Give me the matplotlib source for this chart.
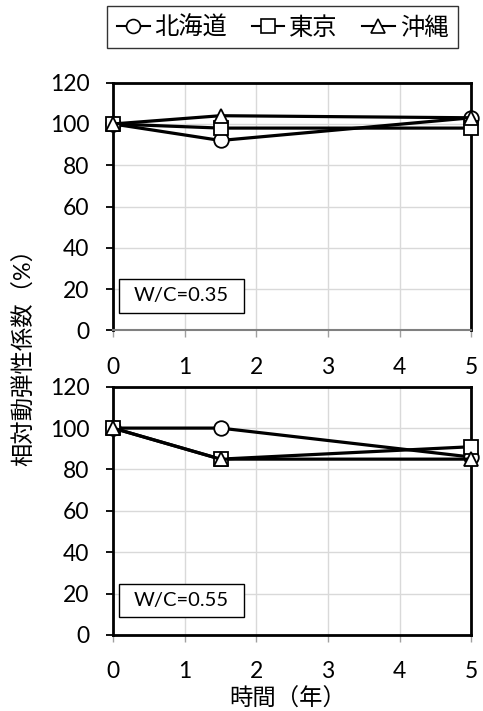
import matplotlib
matplotlib.use("Agg")
import matplotlib.pyplot as plt
from matplotlib.lines import Line2D
from matplotlib.patches import Rectangle

plt.rcParams['font.family'] = ['Lato', 'Noto Sans CJK JP', 'DejaVu Sans']

years = [0, 1.5, 5]
series_names = ['北海道', '東京', '沖縄']
markers = ['o', 's', '^']

# relative dynamic modulus (%) for each water-cement ratio
wc035 = {
    '北海道': [100, 92, 103],
    '東京': [100, 98, 98],
    '沖縄': [100, 104, 103],
}
wc055 = {
    '北海道': [100, 100, 86],
    '東京': [100, 85, 91],
    '沖縄': [100, 85, 85],
}
panel_labels = ['W/C=0.35', 'W/C=0.55']
y_ticks = [0, 20, 40, 60, 80, 100, 120]
x_ticks = [0, 1, 2, 3, 4, 5]

fig = plt.figure(figsize=(4.83, 7.11), dpi=100)
ax_top = fig.add_axes([0.234, 0.5354, 0.742, 0.3483])
ax_bot = fig.add_axes([0.234, 0.1069, 0.742, 0.3492])

grid_c = '#d9d9d9'
tick_fs = 16.5

for ax, data, lab, bottom_col in [(ax_top, wc035, panel_labels[0], '#808080'),
                                  (ax_bot, wc055, panel_labels[1], 'black')]:
    for name, mk in zip(series_names, markers):
        ax.plot(years, data[name], color='black', lw=2.3, marker=mk,
                markersize=10 if mk != 'o' else 10.5, markerfacecolor='white',
                markeredgecolor='black', markeredgewidth=1.3, clip_on=False, zorder=3)
    ax.set_xlim(0, 5)
    ax.set_ylim(0, 120)
    ax.set_xticks(x_ticks)
    ax.set_yticks(y_ticks)
    ax.grid(True, color=grid_c, lw=1.0, zorder=0)
    ax.set_axisbelow(True)
    for s in ['left', 'right', 'top']:
        ax.spines[s].set_linewidth(2.0)
        ax.spines[s].set_color('black')
    ax.spines['bottom'].set_linewidth(2.0 if bottom_col == 'black' else 1.5)
    ax.spines['bottom'].set_color(bottom_col)
    ax.tick_params(axis='y', direction='out', length=5, width=1.3, color='black',
                   labelsize=tick_fs, pad=12)
    ax.tick_params(axis='x', direction='out', length=5, width=1.0, color='#a0a0a0',
                   labelsize=tick_fs, pad=14)
    ax.add_patch(Rectangle((0.0165, 0.071), 0.35, 0.136, transform=ax.transAxes,
                           facecolor='white', edgecolor='black', linewidth=1.0,
                           zorder=4))
    ax.text(0.19, 0.139, lab, transform=ax.transAxes, fontsize=14.5,
            ha='center', va='center', zorder=5)

fig.text(0.05, 0.506, '相対動弾性係数（%）', rotation=90, ha='center', va='center',
         fontsize=16.8)
fig.text(0.595, 0.0175, '時間（年）', ha='center', va='center', fontsize=16.8)

handles = [Line2D([0], [0], color='black', lw=1.5, marker=mk, markersize=10,
                  markerfacecolor='white', markeredgecolor='black',
                  markeredgewidth=1.2)
           for mk in markers]
leg = fig.legend(handles, series_names, loc='center', bbox_to_anchor=(0.585, 0.962),
                 ncol=3, fontsize=17.5, frameon=True, fancybox=False,
                 handlelength=1.35, handletextpad=0.2, columnspacing=1.0,
                 borderpad=0.4, borderaxespad=0)
leg.get_frame().set_edgecolor('black')
leg.get_frame().set_linewidth(1.0)

fig.savefig('out.png', dpi=100)
